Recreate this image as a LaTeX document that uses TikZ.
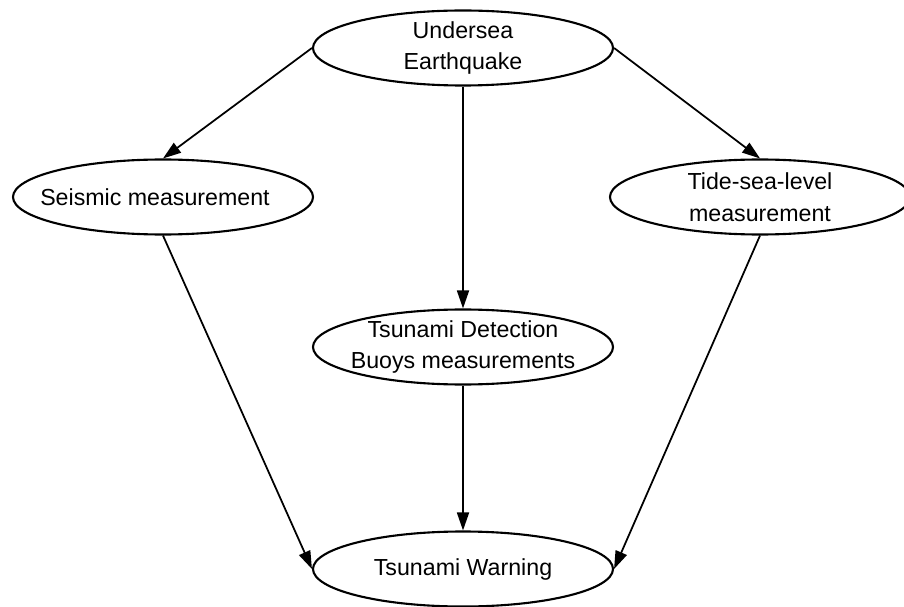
\documentclass[tikz,border=0pt]{standalone}
\usepackage{fontspec}
\setmainfont{Liberation Sans}
\usetikzlibrary{arrows.meta,shapes.geometric}
\begin{document}
\begin{tikzpicture}[>={Triangle[length=1.8mm,width=1.2mm]},
        stage/.style={draw,ellipse,line width=0.6pt,inner sep=0pt,
            minimum width=3cm,minimum height=0.75cm},
        caption/.style={align=center,inner sep=0pt,
            font=\fontsize{6.6}{9}\selectfont},
        link/.style={->,line width=0.5pt}]
                \useasboundingbox (0,0) rectangle (9.04,6.06);
                \node[stage,label={[caption]center:Undersea\\Earthquake}] (quake) at (4.63,5.58) {};
                \node[stage,label={[caption,xshift=-0.08cm]center:Seismic measurement}] (seismic) at (1.63,4.09) {};
                \node[stage,label={[caption]center:Tide-sea-level\\measurement}] (tide) at (7.60,4.09) {};
                \node[stage,label={[caption]center:Tsunami Detection\\Buoys measurements}] (buoys) at (4.63,2.59) {};
                \node[stage,label={[caption]center:Tsunami Warning}] (warning) at (4.63,0.37) {};
                \draw[link] (quake.west) -- (seismic.north);
                \draw[link] (quake.east) -- (tide.north);
                \draw[link] (quake.south) -- (buoys.north);
                \draw[link] (seismic.south) -- (warning.west);
                \draw[link] (tide.south) -- (warning.east);
                \draw[link] (buoys.south) -- (warning.north);
            \end{tikzpicture}
\end{document}
